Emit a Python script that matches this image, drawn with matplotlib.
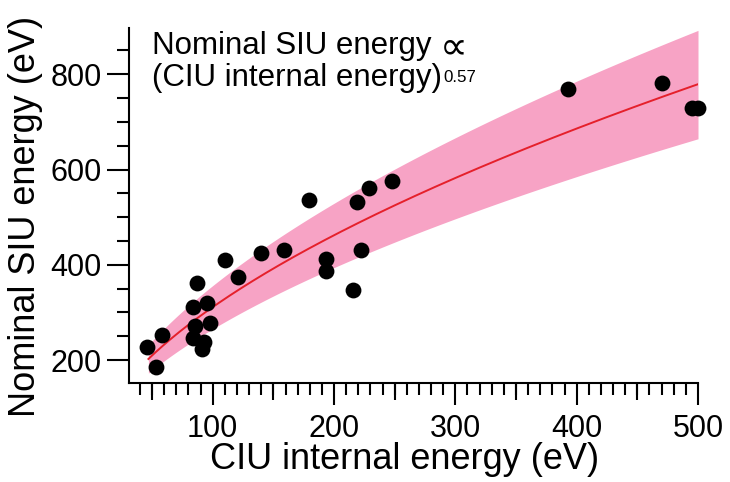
import numpy as np
import matplotlib
matplotlib.use('Agg')
import matplotlib.pyplot as plt
from matplotlib.ticker import MultipleLocator, FuncFormatter

# CIU internal energy (eV) and nominal SIU energy (eV)
ciu_energy = [46, 53, 58, 87, 84, 95, 85, 98, 84, 93, 91,
              110, 121, 140, 159, 179, 193, 193, 216, 219, 229, 222,
              248, 393, 470, 495, 500]
siu_energy = [227, 185, 252, 361, 311, 319, 271, 277, 246, 238, 224,
              411, 374, 424, 432, 537, 413, 386, 348, 532, 562, 432,
              576, 769, 781, 729, 729]

# power-law fit: SIU = prefactor * CIU^exponent, band as fractional spread
fit_exponent = 0.57
fit_prefactor = 22.55
band_upper = 1.145
band_lower = 0.853
fit_range = (47, 500)

x_ticks = [100, 200, 300, 400, 500]
y_ticks = [200, 400, 600, 800]

plt.rcParams['font.family'] = ['Liberation Sans', 'DejaVu Sans']


def make_plot():
    fig = plt.figure(figsize=(7.3, 4.82), dpi=100)
    ax = fig.add_axes([129 / 730, 1 - 383 / 482, (698 - 129) / 730, (383 - 28) / 482])

    x_fit = np.linspace(fit_range[0], fit_range[1], 300)
    y_fit = fit_prefactor * x_fit ** fit_exponent

    ax.fill_between(x_fit, y_fit * band_lower, y_fit * band_upper,
                    color='#F7A3C5', lw=0, zorder=1)
    ax.plot(x_fit, y_fit, color='#E5202B', lw=1.4, zorder=2)
    ax.scatter(ciu_energy, siu_energy, s=130, color='black', lw=0,
               zorder=3, clip_on=False)

    ax.set_xlim(31, 500)
    ax.set_ylim(152, 897)

    for side in ['top', 'right']:
        ax.spines[side].set_visible(False)
    for side in ['left', 'bottom']:
        ax.spines[side].set_linewidth(1.5)

    ax.set_xticks(x_ticks)
    ax.set_yticks(y_ticks)
    ax.xaxis.set_minor_locator(MultipleLocator(10))
    ax.yaxis.set_minor_locator(MultipleLocator(50))
    ax.tick_params(which='major', length=16, width=1.5, labelsize=22, pad=3.5)
    ax.tick_params(axis='x', which='major', pad=6)
    ax.tick_params(which='minor', length=8.5, width=1.5)

    # middle-length ticks every 50 eV on the x axis
    sec = ax.secondary_xaxis('bottom')
    sec.set_xticks(np.arange(50, 501, 100))
    sec.tick_params(length=12.5, width=1.5, labelbottom=False)
    sec.xaxis.set_major_formatter(FuncFormatter(lambda v, p: ''))
    sec.spines['bottom'].set_visible(False)

    ax.set_xlabel('CIU internal energy (eV)', fontsize=26)
    ax.xaxis.set_label_coords(0.484, -0.166)
    ax.set_ylabel('Nominal SIU energy (eV)', fontsize=26)
    ax.yaxis.set_label_coords(-0.152, 0.47)

    # annotation: two lines, the proportional sign and exponent attached
    line1 = ax.text(0.040, 0.927, 'Nominal SIU energy',
                    transform=ax.transAxes, fontsize=22.5, va='baseline', ha='left')
    ax.annotate('\u221d', xy=(1, 0), xycoords=line1, xytext=(6, 1.8),
                textcoords='offset points', fontsize=28, va='baseline', ha='left',
                family=['DejaVu Sans'])
    line2 = ax.text(0.040, 0.837, '(CIU internal energy)',
                    transform=ax.transAxes, fontsize=22.5, va='baseline', ha='left')
    ax.annotate('0.57', xy=(1, 0), xycoords=line2, xytext=(1, 7.6),
                textcoords='offset points', fontsize=12.2, va='baseline', ha='left')

    fig.savefig('out.png', dpi=100)


if __name__ == "__main__":
    make_plot()
